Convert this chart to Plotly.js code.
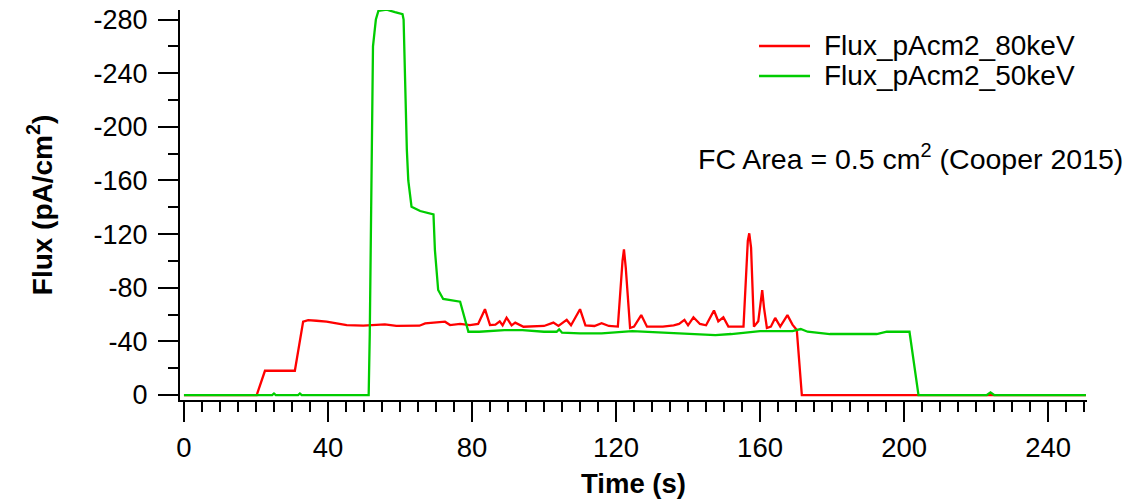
<!DOCTYPE html>
<html>
<head>
<meta charset="utf-8">
<script src="https://cdn.plot.ly/plotly-3.0.1.min.js"></script>
<style>
html,body{margin:0;padding:0;background:#fff;}
#chart{width:1148px;height:503px;}
</style>
</head>
<body>
<div id="chart"></div>
<script>
// Time (s) and flux (pA/cm^2)
const time80 = [0, 10, 20.2, 22.5, 30.8, 33.1, 34.5, 36.8, 39.6, 42.4, 45.2, 49.8, 55.8, 59, 62, 65.4, 67, 69.3, 72.5, 73.9, 76.7, 79.4, 81.7, 83.6, 85, 86.5, 87.7, 88.5, 89.6, 91, 92, 94.3, 100, 102.6, 104, 106.3, 107.5, 110, 111.5, 114, 116, 118, 120.5, 121.8, 122.2, 122.7, 123.9, 125, 127, 128.6, 133, 136, 137.5, 139, 140, 141.5, 143.3, 145, 147.2, 148.4, 149.8, 151.2, 155.4, 156.6, 157, 157.5, 158.3, 159.5, 160.3, 160.6, 161.1, 161.9, 163, 164.2, 165.6, 167.6, 169, 170.2, 171.6, 180, 190, 200, 210, 224, 235, 250.5];
const flux80 = [0, 0, 0, -18.1, -18.1, -54.7, -55.9, -55.4, -54.7, -53.4, -52.2, -51.7, -52.7, -51.5, -51.7, -51.7, -53.4, -53.9, -54.7, -52.2, -53, -52.2, -53, -64, -52.2, -52.5, -55, -52, -57.7, -52, -54, -50.9, -51.5, -54, -51.5, -56, -52, -64, -52, -51.5, -53.6, -51.5, -51, -100, -108.6, -95, -50, -51, -59.6, -51, -51, -52, -53, -56, -52, -58, -53, -52, -63, -55, -58, -51, -51, -115, -120.6, -110, -51, -55, -75, -78.3, -65, -50, -51, -57.5, -51, -59.6, -52.5, -48.5, 0, 0, 0, 0, 0, 0, 0, 0];

const time50 = [0, 24.5, 25, 25.5, 31.7, 32.2, 32.7, 51.3, 51.6, 52.2, 52.4, 52.5, 52.9, 53.3, 54, 56.3, 58.6, 60.7, 61.0, 61.2, 61.6, 61.8, 61.9, 62.3, 63.2, 65.6, 69.3, 69.7, 70.6, 72, 76.7, 79, 82, 89, 94, 100, 103.5, 104.2, 105, 110, 116, 124.5, 133.7, 140, 147.6, 152, 160, 165.6, 169, 171.3, 173.2, 179.4, 192.4, 195.2, 201.5, 204, 223, 224, 225, 250.5];
const flux50 = [0, 0, -1.2, 0, 0, -1.2, 0, 0, -45, -200, -225, -260, -270, -280, -286.4, -287.3, -285.5, -284, -280, -255, -227, -200, -183, -160, -140.4, -137.2, -134.7, -108, -78.3, -71.6, -69.6, -47.2, -47.2, -48.4, -48.4, -47.2, -47.2, -49, -46.5, -46, -46, -47.7, -46.6, -46, -44.7, -45.5, -47.7, -47.7, -47.7, -49.2, -47.2, -45.5, -45.5, -47.2, -47.2, 0, 0, -2, 0, 0];

const seriesNames = ['Flux_pAcm2_80keV', 'Flux_pAcm2_50keV'];
const seriesColors = ['#ff0000', '#00cc00'];
const xTickVals = [0, 40, 80, 120, 160, 200, 240];
const yTickVals = [0, -40, -80, -120, -160, -200, -240, -280];

const FONT = 'Liberation Sans, Arial, sans-serif';

const traces = [
  {x: time80, y: flux80, name: seriesNames[0], type: 'scatter', mode: 'lines',
   line: {color: seriesColors[0], width: 2.3}, showlegend: false},
  {x: time50, y: flux50, name: seriesNames[1], type: 'scatter', mode: 'lines',
   line: {color: seriesColors[1], width: 2.3}, showlegend: false}
];

// legend drawn as paper-anchored line samples + text
const legY = [0.9077, 0.8308];
const shapes = seriesNames.map((n, i) => ({
  type: 'line', xref: 'paper', yref: 'paper',
  x0: 0.6384, x1: 0.6946, y0: legY[i], y1: legY[i],
  line: {color: seriesColors[i], width: 2.5}
}));
const annotations = seriesNames.map((n, i) => ({
  xref: 'paper', yref: 'paper', x: 0.708, y: legY[i], xanchor: 'left', yanchor: 'middle',
  text: n, showarrow: false, font: {size: 28, family: FONT, color: '#000'}
}));
annotations.push({
  xref: 'paper', yref: 'paper', x: 0.569, y: 0.623, xanchor: 'left', yanchor: 'middle',
  text: 'FC Area = 0.5 cm<sup>2</sup> (Cooper 2015)', showarrow: false,
  font: {size: 28.5, family: FONT, color: '#000'}
});

const layout = {
  width: 1148, height: 503,
  margin: {l: 180, r: 61, t: 10, b: 103},
  paper_bgcolor: '#ffffff', plot_bgcolor: '#ffffff',
  font: {family: FONT, color: '#000000', size: 27},
  showlegend: false,
  xaxis: {
    range: [-1.1, 250.8], showgrid: false, zeroline: false,
    showline: true, linecolor: '#000', linewidth: 2,
    ticks: 'outside', ticklen: 20, tickwidth: 2, tickcolor: '#000',
    tickvals: xTickVals, ticktext: xTickVals.map(String),
    tickfont: {size: 27.5, family: FONT}, ticklabelstandoff: 2,
    minor: {dtick: 5, tick0: 0, ticks: 'outside', ticklen: 10, tickwidth: 2, tickcolor: '#000', showgrid: false},
    title: {text: '<b>Time (s)</b>', font: {size: 27.5, family: FONT}, standoff: 12}
  },
  yaxis: {
    range: [3.7, -287.1], showgrid: false, zeroline: false,
    showline: true, linecolor: '#000', linewidth: 2,
    ticks: 'outside', ticklen: 20, tickwidth: 2, tickcolor: '#000',
    tickvals: yTickVals, ticktext: yTickVals.map(String),
    tickfont: {size: 27, family: FONT}, ticklabelstandoff: 5,
    minor: {dtick: 20, tick0: 0, ticks: 'outside', ticklen: 10, tickwidth: 2, tickcolor: '#000', showgrid: false},
    title: {text: '<b>Flux (pA/cm<sup>2</sup>)</b>', font: {size: 28, family: FONT}, standoff: 33}
  },
  shapes: shapes,
  annotations: annotations
};

Plotly.newPlot('chart', traces, layout, {staticPlot: true, displayModeBar: false});
</script>
</body>
</html>
